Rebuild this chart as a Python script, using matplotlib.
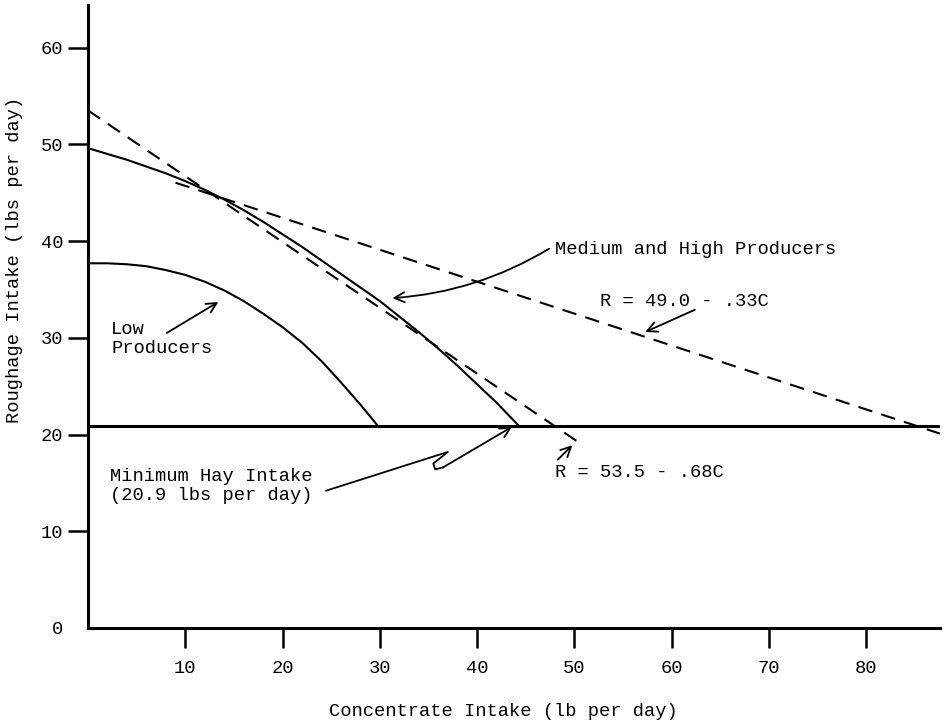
import matplotlib
matplotlib.use("Agg")
import matplotlib.pyplot as plt

# concentrate (C) vs roughage (R) intake, lbs per day
low_c = [0, 2, 4, 6, 8, 10, 12, 14, 16, 18, 20, 22, 24, 26, 28, 29.8]
low_r = [37.7, 37.7, 37.6, 37.4, 37.0, 36.5, 35.8, 34.9, 33.8, 32.5, 31.1,
         29.5, 27.6, 25.4, 23.1, 20.9]

med_high_c = [0, 2, 4, 6, 8, 10, 12, 14, 16, 18, 20, 22, 24, 26, 28, 30,
              32, 34, 36, 38, 40, 42, 44.3]
med_high_r = [49.6, 49.0, 48.4, 47.7, 47.0, 46.2, 45.3, 44.3, 43.2, 42.0,
              40.7, 39.4, 38.0, 36.6, 35.2, 33.8, 32.2, 30.6, 28.9, 27.1,
              25.2, 23.3, 20.9]

hay_min = 20.9

# fitted lines R = a - bC and the C range each is drawn over
fit_a = [53.5, 49.0]
fit_b = [0.68, 0.33]
fit_c_start = [0, 9]
fit_c_end = [51, 87.6]

x_ticks = [10, 20, 30, 40, 50, 60, 70, 80]
y_ticks = [0, 10, 20, 30, 40, 50, 60]

plt.rcParams["font.family"] = ["Liberation Mono", "DejaVu Sans Mono"]
FS = 13.5

fig = plt.figure(figsize=(9.48, 7.28), dpi=100)
ax = fig.add_axes([88 / 948, 100 / 728, 852 / 948, 623 / 728])
ax.set_xlim(0, 87.6)
ax.set_ylim(0, 64.4)

for side in ["top", "right"]:
    ax.spines[side].set_visible(False)
for side in ["left", "bottom"]:
    ax.spines[side].set_linewidth(2.2)

ax.set_xticks(x_ticks)
ax.set_yticks(y_ticks)
ax.tick_params(direction="out", length=14.4, width=1.8, labelsize=FS)
ax.tick_params(axis="x", pad=8.6)
ax.tick_params(axis="y", pad=3.6)
ax.yaxis.get_major_ticks()[0].tick1line.set_visible(False)

# curves
ax.plot(low_c, low_r, color="black", lw=1.5, clip_on=False)
ax.plot(med_high_c, med_high_r, color="black", lw=1.5, clip_on=False)
ax.axhline(hay_min, color="black", lw=2.2)

for a, b, c0, c1 in zip(fit_a, fit_b, fit_c_start, fit_c_end):
    ax.plot([c0, c1], [a - b * c0, a - b * c1], color="black", lw=1.5,
            linestyle=(0, (7, 4.5)), clip_on=False)

arrow = dict(arrowstyle="->", color="black", lw=1.3, mutation_scale=18,
             shrinkA=0, shrinkB=0)

# labels
ax.text(2.4, 29.85, "Low\nProducers", fontsize=FS, va="center", ha="left",
        linespacing=1.15)
ax.annotate("", xy=(13.4, 33.7), xytext=(8.1, 30.5), arrowprops=arrow)

ax.text(48.0, 39.1, "Medium and High Producers", fontsize=FS, va="center", ha="left")
ax.annotate("", xy=(31.3, 34.1), xytext=(47.4, 39.2),
            arrowprops=dict(arrow, connectionstyle="arc3,rad=-0.12"))

ax.text(52.6, 33.7, "R = 49.0 - .33C", fontsize=FS, va="center", ha="left")
ax.annotate("", xy=(57.3, 30.6), xytext=(62.4, 32.9), arrowprops=arrow)

ax.text(48.0, 16.1, "R = 53.5 - .68C", fontsize=FS, va="center", ha="left")
ax.annotate("", xy=(49.8, 18.9), xytext=(48.3, 17.4), arrowprops=arrow)

ax.text(2.3, 14.7, "Minimum Hay Intake\n(20.9 lbs per day)", fontsize=FS,
        va="center", ha="left", linespacing=1.15)
ax.plot([24.5, 37.0, 35.5, 35.7, 36.5], [14.2, 18.2, 17.0, 16.4, 16.6],
        color="black", lw=1.3)
ax.annotate("", xy=(43.6, 20.8), xytext=(36.5, 16.6), arrowprops=arrow)

fig.text(503 / 948, 1 - 712 / 728, "Concentrate Intake (lb per day)",
         fontsize=FS, ha="center", va="center")
fig.text(15 / 948, 1 - 260 / 728, "Roughage Intake (lbs per day)",
         fontsize=FS, ha="center", va="center", rotation=90)

fig.savefig("out.png", dpi=100)
